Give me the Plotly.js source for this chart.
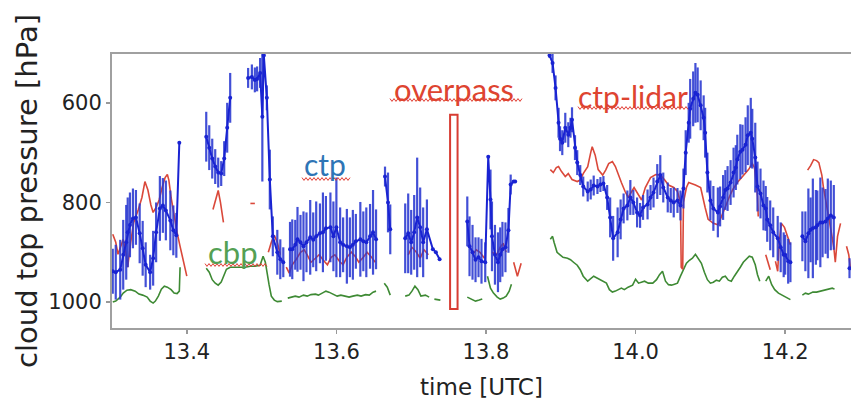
<!DOCTYPE html>
<html>
<head>
<meta charset="utf-8">
<script src="https://cdn.plot.ly/plotly-3.0.1.min.js"></script>
<style>html,body{margin:0;padding:0;background:#fff;}#chart{width:851px;height:404px;}</style>
</head>
<body>
<div id="chart"></div>
<script>
// ---- ctp (blue, with error bars) ----
var ctpTime = [
13.301,13.305,13.311,13.315,13.319,13.321,13.324,13.328,13.332,13.337,13.341,13.345,13.351,13.355,13.359,13.364,13.368,13.372,13.378,13.382,13.386,13.390,13.400,
13.426,13.430,13.434,13.438,13.442,13.446,13.450,13.454,13.458,13.470,
13.482,13.487,13.491,13.494,13.498,13.501,13.503,13.507,13.511,13.515,13.521,13.525,13.529,13.533,
13.538,13.541,13.545,13.548,13.552,13.556,13.560,13.565,13.569,13.573,13.578,13.582,13.586,13.592,13.596,13.600,13.605,13.609,13.614,13.618,13.622,13.626,13.632,13.636,13.640,13.645,13.649,13.653,13.660,
13.665,13.669,13.672,13.680,
13.692,13.696,13.700,13.704,13.708,13.712,13.716,13.721,13.729,13.733,13.738,13.745,
13.775,13.778,13.782,13.786,13.790,13.794,13.799,13.803,13.806,13.808,13.812,13.816,13.819,13.822,13.826,13.830,13.833,13.837,13.839,13.850,
13.885,13.889,13.893,13.897,13.899,13.902,13.906,13.910,13.913,13.915,13.919,13.922,13.926,13.930,13.936,13.940,13.944,13.949,13.953,13.957,13.962,13.966,13.970,13.976,13.980,13.984,13.989,13.993,13.997,14.002,14.006,14.010,14.016,14.020,14.024,14.029,14.033,14.037,14.043,14.047,14.051,14.056,14.060,14.064,14.067,14.071,14.073,14.077,14.080,14.083,14.087,14.091,14.093,14.096,14.100,14.104,14.110,14.113,14.117,14.120,14.123,14.127,14.131,14.134,14.136,14.140,14.143,14.147,14.150,14.154,14.156,14.160,14.163,14.167,14.171,14.174,14.176,14.180,14.184,14.190,14.194,14.198,14.200,14.204,14.207,14.215,
14.223,14.227,14.231,14.234,14.237,14.241,14.243,14.247,14.250,14.254,14.257,14.261,14.265,14.275,
14.286
];
var ctpValue = [
938,940,935,905,880,860,845,832,830,862,892,925,940,912,860,812,806,816,836,856,866,680,null,
668,690,712,728,740,742,712,650,590,null,
550,548,554,552,540,628,505,590,754,868,900,914,920,null,
894,894,885,874,880,888,880,870,875,868,862,860,852,850,868,850,880,885,888,890,885,878,874,878,880,868,860,874,null,
748,800,854,null,
872,862,880,860,830,850,880,854,894,900,914,null,
838,888,900,915,910,918,920,708,794,868,905,920,905,894,890,856,764,758,758,null,
505,520,570,640,672,680,650,664,650,634,690,720,745,768,778,774,766,768,764,762,790,830,872,860,834,812,806,790,800,820,826,810,804,790,780,758,745,770,790,796,800,796,806,772,700,640,612,592,580,584,605,630,660,740,796,812,820,808,790,775,772,760,740,730,714,698,694,684,665,660,672,710,768,782,806,812,834,846,860,872,890,905,905,918,920,null,
868,878,862,855,852,850,846,840,840,838,832,826,830,null,
932
];
var ctpError = [
45,55,60,70,75,70,65,60,55,60,55,45,35,55,60,65,55,60,60,50,45,0,0,
50,45,40,35,30,25,35,50,50,0,
20,25,25,25,30,130,10,25,60,40,45,40,30,0,
55,60,50,65,55,70,60,75,55,70,60,80,65,70,70,100,70,55,75,60,70,55,75,60,70,65,85,60,0,
20,60,50,0,
70,80,65,75,120,80,70,60,0,0,0,0,
50,60,55,45,40,45,40,0,60,70,60,60,55,55,50,45,20,0,0,0,
5,20,25,30,25,25,30,25,20,25,25,25,20,20,20,20,20,15,15,15,25,40,45,50,40,30,30,35,25,30,25,25,30,25,30,35,40,30,30,25,30,25,30,40,45,40,60,55,60,55,50,45,50,40,40,45,50,40,45,40,45,45,50,45,50,55,50,55,60,70,60,70,50,50,50,45,45,50,50,45,50,45,40,45,40,0,
50,60,90,65,100,75,70,90,70,65,80,70,65,0,
20
];

// ---- ctp-lidar (red) ----
var lidarTime = [
13.301,13.305,13.308,13.312,13.315,13.319,13.321,13.325,13.329,13.335,13.340,13.344,13.348,13.352,13.355,13.359,13.363,13.367,13.371,13.374,13.376,13.379,13.382,13.387,13.391,13.396,13.400,13.405,
13.435,13.439,13.442,13.445,13.449,13.465,
13.485,13.491,13.495,
13.509,13.513,13.517,13.521,13.525,13.528,
13.533,13.537,13.541,13.546,13.552,13.557,13.561,13.566,13.572,13.577,13.582,13.588,13.593,13.598,13.604,13.609,13.614,13.620,13.625,13.630,13.636,13.641,13.647,13.652,13.670,
13.696,13.701,13.707,13.712,13.717,13.723,13.760,
13.782,13.787,13.792,13.798,13.805,
13.808,13.814,13.819,13.823,13.827,13.833,
13.837,13.842,13.847,13.870,
13.886,13.890,13.894,13.897,13.901,13.906,13.910,13.915,13.922,13.926,13.930,13.936,13.940,13.942,13.946,13.950,13.956,13.960,13.964,13.969,13.973,13.977,13.981,13.986,13.990,13.994,13.998,14.004,14.008,14.013,14.020,14.027,14.033,14.039,14.044,14.051,14.056,14.060,14.061,14.063,14.064,14.068,14.071,14.080,14.087,14.093,14.097,14.104,14.110,14.113,14.120,14.125,14.130,14.136,14.143,14.151,14.156,14.159,14.163,14.164,14.170,
14.174,14.178,14.180,14.183,
14.187,14.190,14.192,14.195,14.199,14.203,14.207,14.220,
14.230,14.234,14.238,14.242,14.245,14.249,14.251,14.255,14.258,14.261,14.265,14.267,14.270,14.274,14.278,
14.282,14.285,14.287
];
var lidarValue = [
864,880,904,885,874,905,930,880,840,815,790,758,775,805,820,810,795,770,750,744,755,790,820,860,888,920,948,null,
814,790,776,800,840,null,
802,802,null,
900,880,866,880,905,null,
930,942,925,915,900,895,905,920,912,905,915,925,910,905,918,925,910,900,908,920,910,900,910,920,null,
905,890,900,912,895,905,null,
905,895,900,912,null,
900,905,890,882,900,null,
920,948,922,null,
734,740,730,728,738,748,742,754,758,755,742,728,700,688,705,734,745,735,722,718,728,745,760,778,790,780,770,785,795,770,750,744,745,755,765,770,778,800,930,934,800,770,760,765,770,810,834,842,845,835,808,790,774,760,748,734,722,730,788,828,null,
905,925,935,null,
918,938,880,842,850,870,885,null,
735,726,714,716,720,745,768,800,825,854,890,920,868,842,null,
888,905,930
];

// ---- cbp (green) ----
var cbpTime = [
13.301,13.305,13.311,13.315,13.320,13.325,13.331,13.336,13.341,13.347,13.351,13.355,13.358,13.362,13.366,13.370,13.374,13.379,13.383,13.387,13.390,13.391,13.400,
13.426,13.430,13.434,13.438,13.442,13.446,13.450,13.453,13.458,13.465,13.471,13.478,13.485,13.491,13.498,13.502,13.505,13.507,13.510,13.513,13.517,13.521,13.525,13.527,13.531,
13.535,13.540,13.545,13.550,13.556,13.561,13.566,13.572,13.576,13.581,13.586,13.590,13.596,13.601,13.606,13.612,13.617,13.622,13.628,13.633,13.639,13.644,13.649,13.653,13.660,
13.664,13.668,13.672,13.680,
13.692,13.697,13.701,13.705,13.709,13.713,13.719,13.724,13.727,13.731,13.739,13.760,
13.775,13.780,13.786,13.791,13.795,13.799,
13.802,13.806,13.810,13.815,13.819,13.823,13.827,13.831,13.834,13.870,
13.886,13.889,13.891,13.895,13.899,13.903,13.909,13.913,13.917,13.922,13.926,13.930,13.936,13.940,13.944,13.949,13.953,13.957,13.961,13.965,13.969,13.973,13.977,13.981,13.985,13.990,13.996,14.000,14.004,14.008,14.012,14.017,14.023,14.028,14.032,14.036,14.040,14.044,14.048,14.052,14.056,14.060,14.064,14.068,14.072,14.076,14.080,14.084,14.088,14.092,14.096,14.100,14.104,14.108,14.112,14.116,14.120,14.124,14.128,14.132,14.136,14.140,14.144,14.148,14.152,14.156,14.160,14.163,14.166,14.170,
14.174,14.178,14.182,14.186,14.191,14.196,14.202,14.207,14.215,
14.223,14.227,14.231,14.237,14.242,14.247,14.253,14.258,14.263,14.266
];
var cbpValue = [
1000,998,990,982,976,975,978,984,986,990,998,1002,998,988,974,968,970,975,982,983,978,930,null,
932,940,955,962,966,960,945,934,930,930,929,930,928,928,926,908,920,940,965,988,996,999,999,998,null,
992,990,988,990,986,988,985,984,986,982,978,980,984,988,986,988,990,988,986,988,985,986,980,978,null,
962,970,986,null,
988,986,978,968,975,988,986,990,null,994,996,null,
990,994,998,996,994,null,
948,972,982,990,994,992,988,978,964,null,
874,868,880,900,905,910,912,915,920,926,935,948,958,952,948,952,955,958,962,975,980,978,975,972,975,970,966,954,962,960,958,962,962,955,945,938,958,965,966,964,962,948,935,922,916,912,904,912,922,940,955,962,960,956,958,950,948,956,958,948,940,930,920,914,908,910,925,945,958,null,
958,948,965,975,982,986,990,995,null,
986,982,984,980,980,978,976,975,972,974
];

var xTickValues = [13.4, 13.6, 13.8, 14.0, 14.2];
var xTickLabels = ["13.4", "13.6", "13.8", "14.0", "14.2"];
var yTickValues = [600, 800, 1000];
var yTickLabels = ["600", "800", "1000"];

// ---- drawing ----
var W = 851, H = 404, L = 112, R = 0, T = 54, B = 76;
function px2paperX(px){ return (px - L) / (W - L - R); }
function py2paperY(py){ return (H - B - py) / (H - T - B); }
function wavy(px0, px1, py){
  var d = '', step = 2, amp = 1.4, i = 0;
  for (var x = px0; x <= px1; x += step, i++){
    var y = py + (i % 2 === 0 ? -amp : amp);
    d += (i === 0 ? 'M' : 'L') + px2paperX(x).toFixed(5) + ',' + py2paperY(y).toFixed(5);
  }
  return {type:'path', xref:'paper', yref:'paper', path:d,
          line:{color:'rgb(225,60,50)', width:1}};
}

var RED = 'rgb(218,72,58)';
var traces = [
  {x: cbpTime, y: cbpValue, type:'scatter', mode:'lines', name:'cbp',
   line:{color:'rgb(62,138,52)', width:1.6}, connectgaps:false, hoverinfo:'skip'},
  {x: lidarTime, y: lidarValue, type:'scatter', mode:'lines', name:'ctp-lidar',
   line:{color:RED, width:1.6}, connectgaps:false, hoverinfo:'skip'},
  {x: ctpTime, y: ctpValue, type:'scatter', mode:'lines+markers', name:'ctp',
   line:{color:'rgb(25,35,210)', width:2}, marker:{color:'rgb(25,35,210)', size:4},
   error_y:{type:'data', array: ctpError, visible:true, color:'rgba(40,55,208,0.88)', thickness:2.2, width:0},
   connectgaps:false, hoverinfo:'skip'}
];

var tickFont = {family:'DejaVu Sans', size:21, color:'#222'};
var layout = {
  width: W, height: H,
  margin: {l:L, r:R, t:T, b:B, pad:0},
  paper_bgcolor:'#fff', plot_bgcolor:'#fff',
  showlegend:false,
  xaxis: {
    range:[13.3, 14.288], tickmode:'array', tickvals:xTickValues, ticktext:xTickLabels,
    ticks:'outside', ticklen:4, tickwidth:1.5, tickcolor:'#999',
    showline:true, mirror:true, linecolor:'#a0a0a0', linewidth:2,
    showgrid:false, zeroline:false, tickfont:tickFont, automargin:false,
    title:{text:'time [UTC]', font:{family:'DejaVu Sans', size:23, color:'#222'}, standoff:16}
  },
  yaxis: {
    range:[1052, 502], tickmode:'array', tickvals:yTickValues, ticktext:yTickLabels,
    ticks:'outside', ticklen:4, tickwidth:1.5, tickcolor:'#999',
    showline:true, mirror:true, linecolor:'#a0a0a0', linewidth:2,
    showgrid:false, zeroline:false, tickfont:tickFont, automargin:false,
    title:{text:'cloud top pressure [hPa]', font:{family:'DejaVu Sans', size:29, color:'#222'}, standoff:2}
  },
  shapes: [
    {type:'rect', xref:'x', yref:'y', x0:13.752, x1:13.762, y0:624, y1:1014,
     line:{color:'rgb(215,60,50)', width:2}, fillcolor:'rgba(0,0,0,0)'},
    wavy(302, 350, 179),
    wavy(390, 522, 100),
    wavy(578, 688, 108),
    wavy(205, 268, 265)
  ],
  annotations: [
    {x:13.585, y:723, xref:'x', yref:'y', text:'ctp', showarrow:false,
     font:{family:'Lato', size:30, color:'rgb(46,117,182)'}},
    {x:13.757, y:572, xref:'x', yref:'y', text:'overpass', showarrow:false,
     font:{family:'Lato', size:31, color:'rgb(222,68,48)'}},
    {x:13.996, y:586, xref:'x', yref:'y', text:'ctp-lidar', showarrow:false,
     font:{family:'Lato', size:30, color:'rgb(222,68,48)'}},
    {x:13.462, y:899, xref:'x', yref:'y', text:'cbp', showarrow:false,
     font:{family:'Lato', size:31, color:'rgb(84,160,84)'}}
  ]
};

Plotly.newPlot('chart', traces, layout, {staticPlot:true, displayModeBar:false});
</script>
</body>
</html>
